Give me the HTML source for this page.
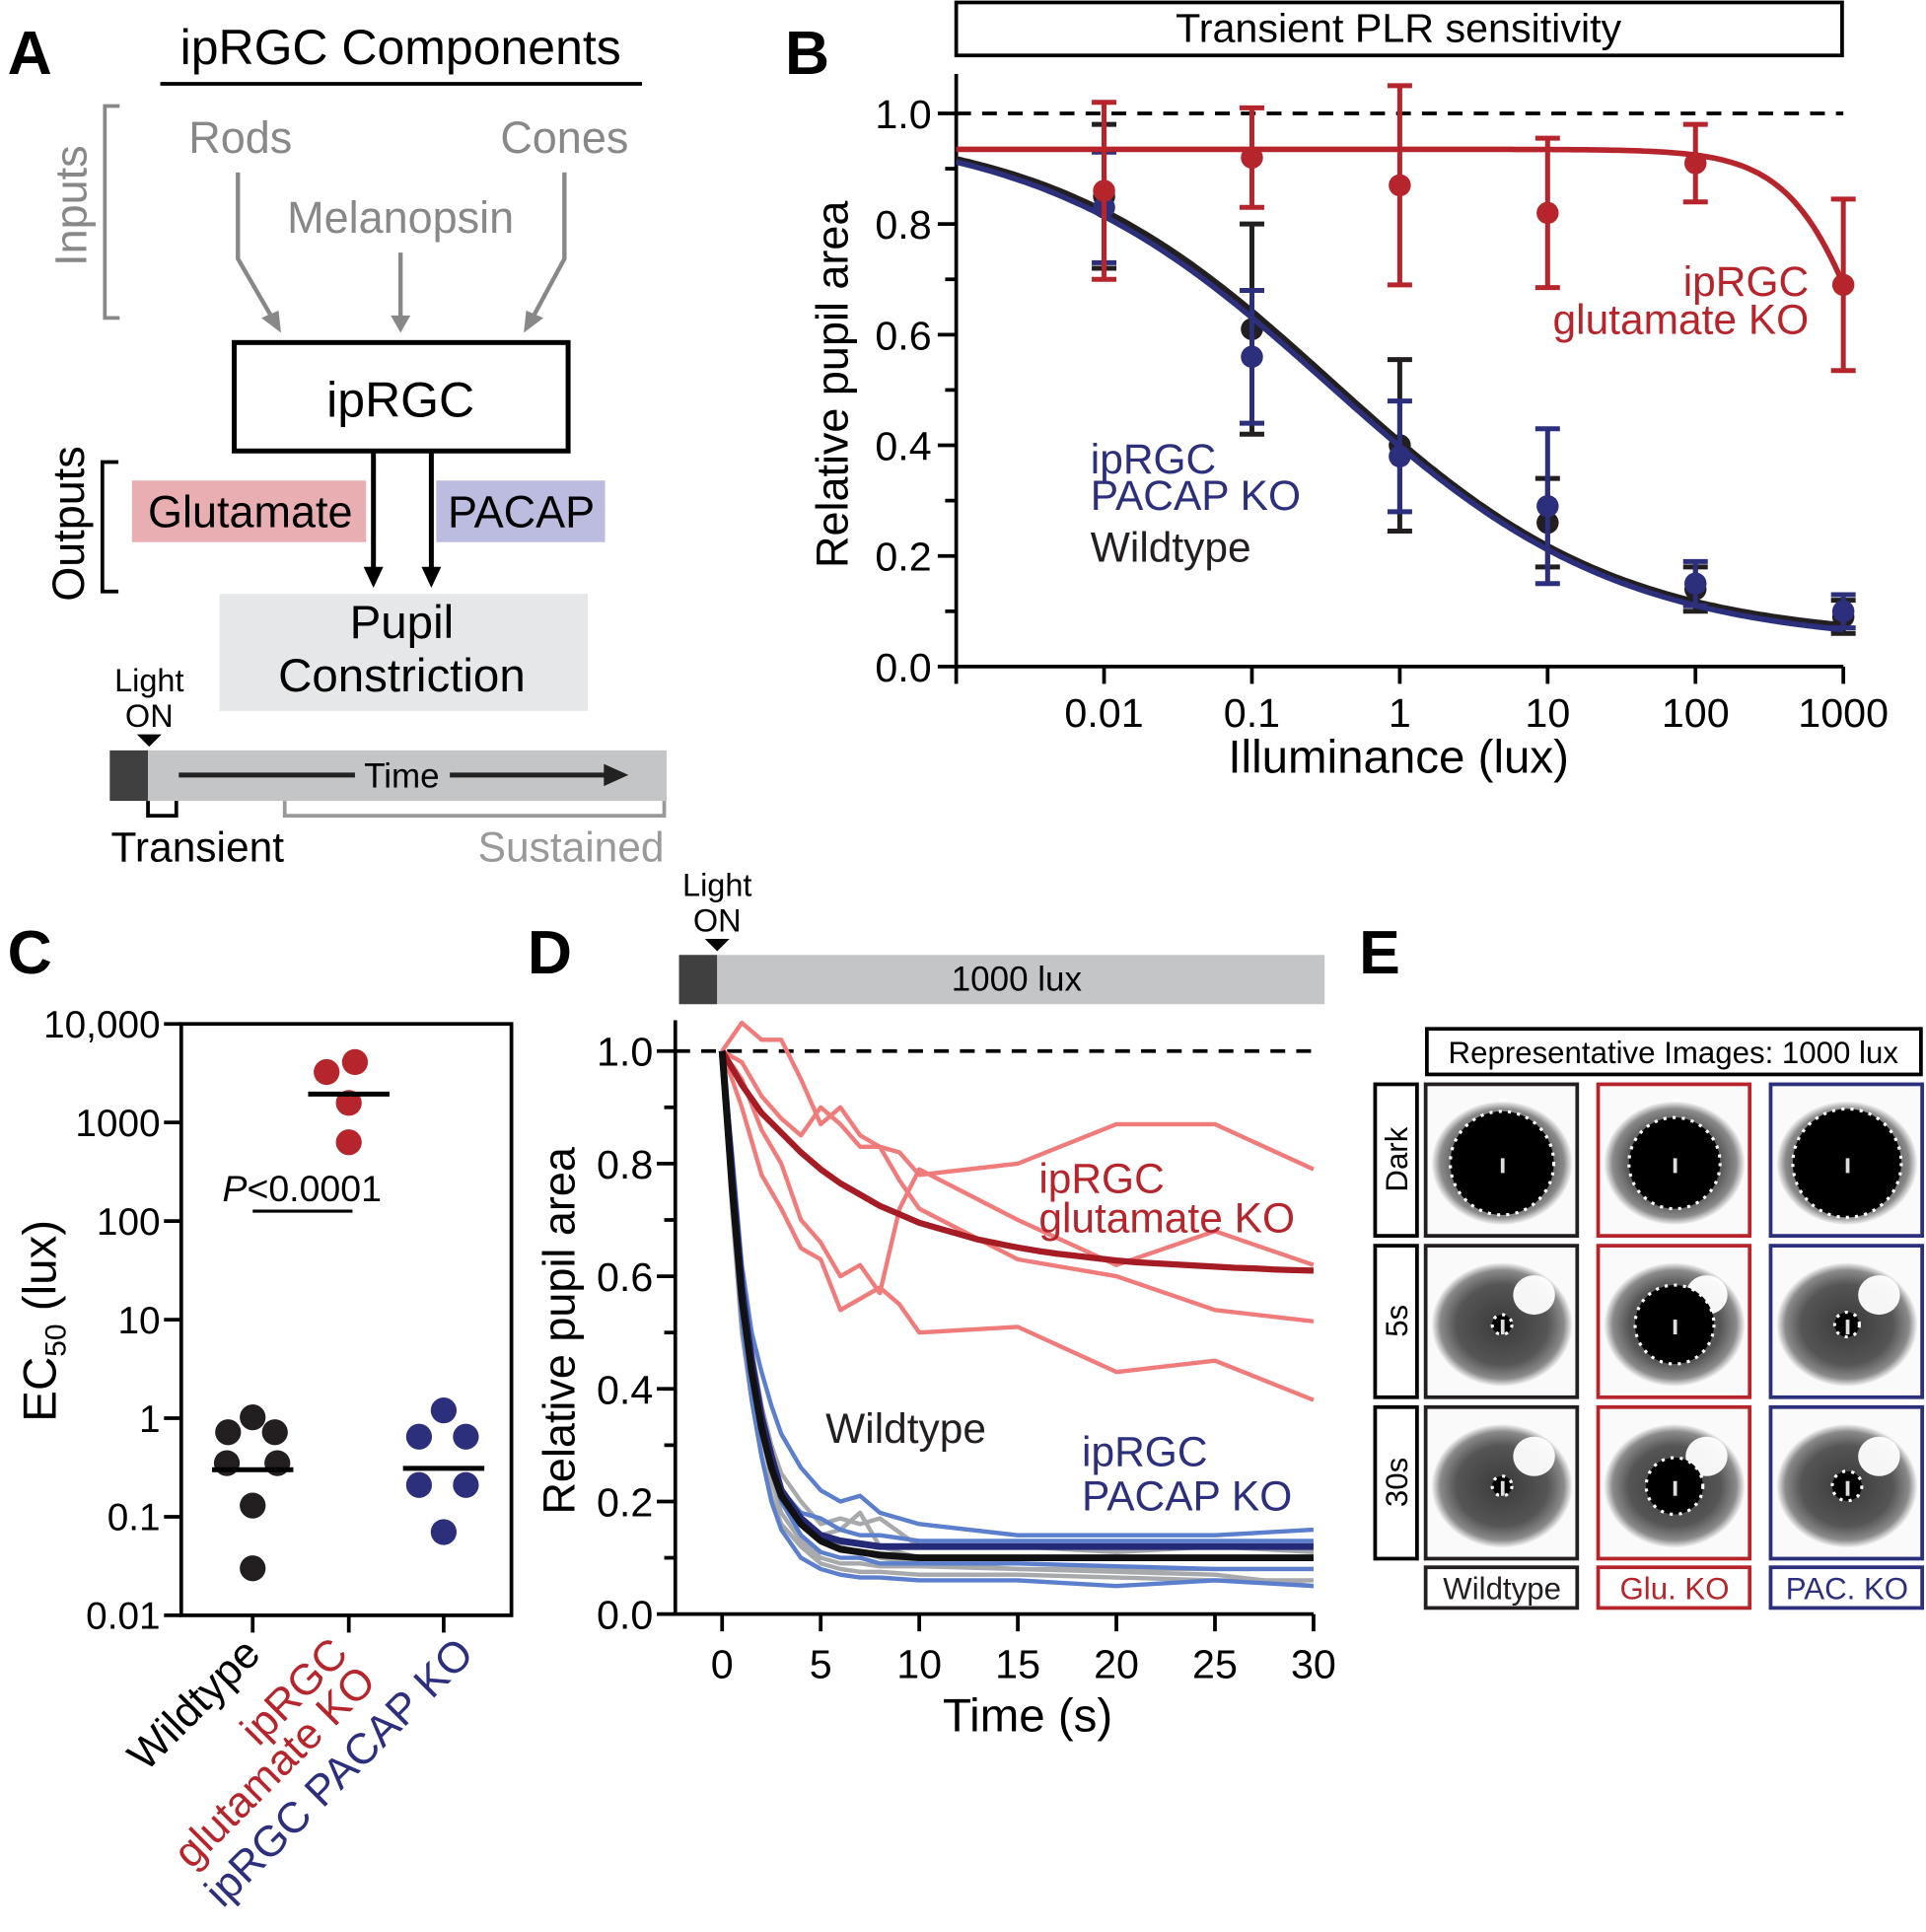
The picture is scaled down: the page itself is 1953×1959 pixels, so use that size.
<!DOCTYPE html>
<html><head><meta charset="utf-8"><style>
html,body{margin:0;padding:0;background:#fff}
svg{display:block;font-family:"Liberation Sans",Arial,sans-serif}
</style></head><body>
<svg id="fig" width="1953" height="1959" viewBox="0 0 1563 1568" xmlns="http://www.w3.org/2000/svg">
<defs>
<radialGradient id="irisG" cx="50%" cy="50%" r="50%"><stop offset="0" stop-color="#3a3a3a"/><stop offset="0.65" stop-color="#555"/><stop offset="0.88" stop-color="#8a8a8a"/><stop offset="1" stop-color="#f4f4f4"/></radialGradient>
</defs>
<!-- Panel A -->
<g>
<text x="6" y="60" font-size="50" font-weight="bold">A</text>
<text x="325" y="52" font-size="40" text-anchor="middle">ipRGC Components</text>
<line x1="130" y1="68" x2="521" y2="68" stroke="#000" stroke-width="3"/>
<path d="M97 86 H85 V258 H97" fill="none" stroke="#888" stroke-width="3"/>
<text transform="translate(70,167) rotate(-90)" font-size="36" fill="#888" text-anchor="middle">Inputs</text>
<text x="195" y="124" font-size="36" fill="#888" text-anchor="middle">Rods</text>
<text x="458" y="124" font-size="36" fill="#888" text-anchor="middle">Cones</text>
<text x="325" y="189" font-size="36" fill="#888" text-anchor="middle">Melanopsin</text>
<g stroke="#888" stroke-width="3.5" fill="none">
<path d="M193 140 V210 L222 260"/><path d="M325 205 V258"/><path d="M458 140 V210 L431 260"/>
</g>
<g fill="#888"><polygon points="228,270 212,258 226,252"/><polygon points="325,270 317,256 333,256"/><polygon points="425,270 427,252 441,258"/></g>
<rect x="190" y="278" width="271" height="88" fill="#fff" stroke="#000" stroke-width="4"/>
<text x="325" y="338" font-size="40" text-anchor="middle">ipRGC</text>
<path d="M96 375 H83 V480 H96" fill="none" stroke="#000" stroke-width="3"/>
<text transform="translate(68,425) rotate(-90)" font-size="36" text-anchor="middle">Outputs</text>
<rect x="107" y="390" width="190" height="50" fill="#e8aeb2"/>
<text x="203" y="428" font-size="36" text-anchor="middle">Glutamate</text>
<rect x="354" y="390" width="137" height="50" fill="#bbbcdf"/>
<text x="423" y="428" font-size="36" text-anchor="middle">PACAP</text>
<g stroke="#000" stroke-width="4"><line x1="303" y1="366" x2="303" y2="462"/><line x1="350" y1="366" x2="350" y2="462"/></g>
<polygon points="303,477 295,460 311,460"/><polygon points="350,477 342,460 358,460"/>
<rect x="178" y="482" width="299" height="95" fill="#e6e7e8"/>
<text x="326" y="518" font-size="38" text-anchor="middle">Pupil</text>
<text x="326" y="561" font-size="38" text-anchor="middle">Constriction</text>
<text x="121" y="561" font-size="26" text-anchor="middle">Light</text>
<text x="121" y="590" font-size="26" text-anchor="middle">ON</text>
<polygon points="111,596 131,596 121,606"/>
<rect x="89" y="609" width="31" height="41" fill="#404041"/>
<rect x="120" y="609" width="421" height="41" fill="#c4c5c7"/>
<line x1="145" y1="629" x2="288" y2="629" stroke="#222" stroke-width="4"/>
<line x1="365" y1="629" x2="495" y2="629" stroke="#222" stroke-width="4"/>
<polygon points="510,629 490,620 490,638" fill="#222"/>
<text x="326" y="639" font-size="28" text-anchor="middle">Time</text>
<path d="M120 650 V662 H143 V650" fill="none" stroke="#000" stroke-width="3"/>
<path d="M231 650 V662 H539 V650" fill="none" stroke="#999" stroke-width="3"/>
<text x="90" y="699" font-size="34">Transient</text>
<text x="539" y="699" font-size="34" fill="#999" text-anchor="end">Sustained</text>
</g>
<!-- Panel B static -->
<g id="pb">
<text x="637" y="60" font-size="50" font-weight="bold">B</text>
<rect x="776" y="2" width="719" height="43" fill="#fff" stroke="#000" stroke-width="3"/>
<text x="1135" y="34" font-size="33" text-anchor="middle">Transient PLR sensitivity</text>
<text transform="translate(688,312) rotate(-90)" font-size="36" text-anchor="middle">Relative pupil area</text>
<text x="1135" y="627" font-size="38" text-anchor="middle">Illuminance (lux)</text>
<text x="1468" y="240" font-size="34" fill="#b5252b" text-anchor="end">ipRGC</text>
<text x="1468" y="271" font-size="34" fill="#b5252b" text-anchor="end">glutamate KO</text>
<text x="885" y="384" font-size="34" fill="#2b2f7c">ipRGC</text>
<text x="885" y="414" font-size="34" fill="#2b2f7c">PACAP KO</text>
<text x="885" y="456" font-size="34" fill="#231f20">Wildtype</text>
</g>
<!-- Panel C static -->
<g id="pc">
<text x="6" y="790" font-size="50" font-weight="bold">C</text>
<rect x="147" y="831" width="268" height="480" fill="none" stroke="#000" stroke-width="3"/>
<text transform="translate(45,1072) rotate(-90)" font-size="38" text-anchor="middle">EC<tspan font-size="24" dy="8">50</tspan><tspan dy="-8"> (lux)</tspan></text>
<text x="245" y="975" font-size="30" text-anchor="middle"><tspan font-style="italic">P</tspan>&lt;0.0001</text>
<line x1="205" y1="983" x2="286" y2="983" stroke="#000" stroke-width="2.5"/>
<text transform="translate(213,1344) rotate(-45)" font-size="35" text-anchor="end">Wildtype</text>
<text transform="translate(284,1344) rotate(-45)" font-size="35" fill="#b5252b" text-anchor="end"><tspan x="0" y="0">ipRGC</tspan><tspan x="0" y="32">glutamate KO</tspan></text>
<text transform="translate(386,1344) rotate(-45)" font-size="35" fill="#2b2f7c" text-anchor="end">ipRGC PACAP KO</text>
</g>
<!-- Panel D static -->
<g id="pd">
<text x="428" y="790" font-size="50" font-weight="bold">D</text>
<text x="582" y="727" font-size="26" text-anchor="middle">Light</text>
<text x="582" y="756" font-size="26" text-anchor="middle">ON</text>
<polygon points="572,762 592,762 582,772"/>
<rect x="551" y="775" width="31" height="40" fill="#404041"/>
<rect x="582" y="775" width="493" height="40" fill="#c4c5c7"/>
<text x="825" y="804" font-size="28" text-anchor="middle">1000 lux</text>
<text transform="translate(466,1080) rotate(-90)" font-size="36" text-anchor="middle">Relative pupil area</text>
<text x="834" y="1405" font-size="38" text-anchor="middle">Time (s)</text>
</g>
<g id="pdlab">
<text x="843" y="968" font-size="34" fill="#b5252b">ipRGC</text>
<text x="843" y="1000" font-size="34" fill="#b5252b">glutamate KO</text>
<text x="670" y="1171" font-size="34" fill="#231f20">Wildtype</text>
<text x="878" y="1190" font-size="34" fill="#2b2f7c">ipRGC</text>
<text x="878" y="1226" font-size="34" fill="#2b2f7c">PACAP KO</text>
</g>
<!-- Panel E -->
<g id="pe">
<text x="1103" y="790" font-size="50" font-weight="bold">E</text>
<rect x="1158" y="835" width="401" height="37" fill="#fff" stroke="#000" stroke-width="3"/>
<text x="1358" y="863" font-size="25" text-anchor="middle">Representative Images: 1000 lux</text>
</g>
<script>
var NS='http://www.w3.org/2000/svg';
var svg=document.getElementById('fig');
function mk(tag,attrs,parent){var e=document.createElementNS(NS,tag);for(var k in attrs)e.setAttribute(k,attrs[k]);(parent||svg).appendChild(e);return e;}
var RED='#b5252b',NAVY='#2b2f7c',BLK='#231f20';

// ===== Panel B data =====
var bLux=[0.01,0.1,1,10,100,1000];
var bXTicks=[0.01,0.1,1,10,100,1000];
var bXTickLabels=['0.01','0.1','1','10','100','1000'];
var bYTicks=[0,0.2,0.4,0.6,0.8,1.0];
var bYTickLabels=['0.0','0.2','0.4','0.6','0.8','1.0'];
var bGluMean=[0.86,0.92,0.87,0.82,0.91,0.69];
var bGluErr=[0.16,0.09,0.18,0.135,0.07,0.155];
var bPacMean=[0.83,0.56,0.38,0.29,0.15,0.10];
var bPacErr=[0.10,0.12,0.10,0.14,0.04,0.03];
var bWtMean=[0.85,0.61,0.40,0.26,0.14,0.09];
var bWtErr=[0.13,0.19,0.155,0.08,0.04,0.03];
var bWtFit=[0.05,0.98,0.35,0.45];   // bottom, top, EC50, hill
var bPacFit=[0.04,0.98,0.33,0.44];
var bGluFit=[0.0,0.935,2000,1.5];

function bx(v){return 776+120*(Math.log10(v)+3);}
function by(v){return 541-449*v;}
var pb=document.getElementById('pb');
var ax=mk('path',{d:'M776 60 V541 H1496',fill:'none',stroke:'#000','stroke-width':3},pb);


for(var i=0;i<=10;i++){var v=i/10;var t=mk('line',{x1:i%2==0?761:767,x2:776,y1:by(v),y2:by(v),stroke:'#000','stroke-width':3},pb);

}
bYTicks.forEach(function(v,i){var t=mk('text',{x:756,y:by(v)+12,'font-size':33,'text-anchor':'end'},pb);t.textContent=bYTickLabels[i];

});
bXTicks.forEach(function(v,i){var t=mk('line',{x1:bx(v),x2:bx(v),y1:541,y2:555,stroke:'#000','stroke-width':3},pb);


var l=mk('text',{x:bx(v),y:590,'font-size':33,'text-anchor':'middle'},pb);l.textContent=bXTickLabels[i];

});
var tk0=mk('line',{x1:776,x2:776,y1:541,y2:555,stroke:'#000','stroke-width':3},pb);


var dl=mk('line',{x1:776,x2:1496,y1:by(1),y2:by(1),stroke:'#000','stroke-width':3,'stroke-dasharray':'12,9'},pb);


function fitPath(p){var d='';for(var k=0;k<=200;k++){var lx=-3+6*k/200;var x=Math.pow(10,lx);var y=p[0]+(p[1]-p[0])/(1+Math.pow(x/p[2],p[3]));d+=(k?'L':'M')+bx(x).toFixed(1)+' '+by(y).toFixed(1);}return d;}
function seriesB(mean,err,fit,color,name){
 var f=mk('path',{d:fitPath(fit),fill:'none',stroke:color,'stroke-width':4.5},pb);
 
 
 bLux.forEach(function(x,i){
  var X=bx(x),y1=by(mean[i]+err[i]),y2=by(mean[i]-err[i]);
  var e=mk('path',{d:'M'+X+' '+y1+'V'+y2+'M'+(X-10)+' '+y1+'H'+(X+10)+'M'+(X-10)+' '+y2+'H'+(X+10),stroke:color,'stroke-width':4,fill:'none'},pb);
  
  
  var c=mk('circle',{cx:X,cy:by(mean[i]),r:9,fill:color},pb);
  
  
 });
}
seriesB(bWtMean,bWtErr,bWtFit,BLK,'b-wildtype');
seriesB(bPacMean,bPacErr,bPacFit,NAVY,'b-pacap-ko');
seriesB(bGluMean,bGluErr,bGluFit,RED,'b-glu-ko');

// ===== Panel C data =====
var cCategories=['Wildtype','ipRGC glutamate KO','ipRGC PACAP KO'];
var cYTicks=[0.01,0.1,1,10,100,1000,10000];
var cYTickLabels=['0.01','0.1','1','10','100','1000','10,000'];
var cWtValues=[1.02,0.72,0.72,0.35,0.35,0.13,0.03];
var cWtJitter=[0,-20,18,-21,20,0,0];
var cGluValues=[3250,4100,1580,630];
var cGluJitter=[-18,5,0,0];
var cPacValues=[1.2,0.65,0.65,0.21,0.21,0.07];
var cPacJitter=[0,-20,18,-20,18,0];
var cMeans=[0.3,1940,0.31];
var pc=document.getElementById('pc');
var cX=[205,283,360];
function cy(v){return 1311-80*(Math.log10(v)+2);}
cYTicks.forEach(function(v,i){var t=mk('line',{x1:133,x2:147,y1:cy(v),y2:cy(v),stroke:'#000','stroke-width':3},pc);


var l=mk('text',{x:130,y:cy(v)+11,'font-size':31,'text-anchor':'end'},pc);l.textContent=cYTickLabels[i];

});
cX.forEach(function(x){var t=mk('line',{x1:x,x2:x,y1:1311,y2:1325,stroke:'#000','stroke-width':3},pc);

});
function dotsC(vals,jit,ci,color,name){vals.forEach(function(v,i){var c=mk('circle',{cx:cX[ci]+jit[i],cy:cy(v),r:10.5,fill:color},pc);

});
var m=mk('line',{x1:cX[ci]-33,x2:cX[ci]+33,y1:cy(cMeans[ci]),y2:cy(cMeans[ci]),stroke:'#000','stroke-width':4},pc);

}
dotsC(cWtValues,cWtJitter,0,BLK,'c-wildtype');
dotsC(cGluValues,cGluJitter,1,RED,'c-glu-ko');
dotsC(cPacValues,cPacJitter,2,NAVY,'c-pacap-ko');

// ===== Panel D data =====
var dTimesRed=[0,1,2,3,4,5,6,7,8,9,10,15,20,25,30];
var dGluTrace1=[1.0,1.05,1.02,1.02,0.95,0.87,0.9,0.85,0.83,0.82,0.78,0.8,0.87,0.87,0.79];
var dGluTrace2=[1.0,0.98,0.92,0.88,0.85,0.9,0.87,0.83,0.83,0.77,0.72,0.63,0.6,0.54,0.52];
var dGluTrace3=[1.0,0.95,0.86,0.8,0.7,0.66,0.6,0.62,0.57,0.72,0.79,0.7,0.62,0.68,0.62];
var dGluTrace4=[1.0,0.9,0.78,0.72,0.65,0.63,0.54,0.56,0.58,0.55,0.5,0.51,0.43,0.45,0.38];
var dTimesMeanRed=[0,1,2,3,4,5,6,7,8,9,10,11,12,13,14,15,16,17,18,19,20,21,22,23,24,25,26,27,28,29,30];
var dGluMean=[1.0,0.94,0.89,0.855,0.82,0.79,0.765,0.745,0.725,0.71,0.695,0.685,0.675,0.665,0.658,0.651,0.645,0.64,0.636,0.632,0.628,0.625,0.623,0.621,0.619,0.617,0.615,0.614,0.612,0.611,0.61];
var dTimes=[0,0.5,1,1.5,2,2.5,3,4,5,6,7,8,10,15,20,25,30];
var dWtTrace1=[1.0,0.75,0.55,0.42,0.33,0.26,0.21,0.16,0.13,0.12,0.11,0.1,0.09,0.08,0.08,0.08,0.08];
var dWtTrace2=[1.0,0.8,0.6,0.47,0.37,0.3,0.25,0.2,0.16,0.17,0.16,0.17,0.12,0.12,0.11,0.12,0.11];
var dWtTrace3=[1.0,0.72,0.5,0.38,0.28,0.21,0.16,0.12,0.09,0.08,0.075,0.075,0.07,0.07,0.065,0.06,0.06];
var dWtTrace4=[1.0,0.78,0.58,0.45,0.35,0.28,0.22,0.17,0.14,0.15,0.18,0.12,0.1,0.1,0.1,0.1,0.1];
var dWtTrace5=[1.0,0.77,0.56,0.43,0.32,0.24,0.18,0.13,0.1,0.09,0.09,0.085,0.085,0.08,0.075,0.07,0.05];
var dWtMean=[1.0,0.76,0.56,0.43,0.33,0.26,0.21,0.16,0.13,0.115,0.11,0.105,0.1,0.1,0.1,0.1,0.1];
var dPacTrace1=[1.0,0.82,0.62,0.5,0.43,0.37,0.32,0.26,0.22,0.2,0.21,0.18,0.16,0.14,0.14,0.14,0.15];
var dPacTrace2=[1.0,0.74,0.52,0.38,0.28,0.2,0.15,0.1,0.08,0.07,0.065,0.065,0.06,0.06,0.05,0.06,0.05];
var dPacTrace3=[1.0,0.8,0.6,0.45,0.35,0.28,0.22,0.18,0.17,0.15,0.14,0.14,0.13,0.13,0.13,0.13,0.13];
var dPacTrace4=[1.0,0.76,0.55,0.42,0.33,0.26,0.2,0.14,0.11,0.1,0.1,0.09,0.09,0.09,0.085,0.08,0.08];
var dPacMean=[1.0,0.78,0.58,0.45,0.35,0.28,0.22,0.17,0.14,0.13,0.125,0.12,0.12,0.12,0.12,0.12,0.12];
var dXTicks=[0,5,10,15,20,25,30];
var dYTicks=[0,0.2,0.4,0.6,0.8,1.0];
var dYTickLabels=['0.0','0.2','0.4','0.6','0.8','1.0'];
var pd=document.getElementById('pd');
function dx(t){return 586+16*t;}
function dy(v){return 1310-457*v;}
var dax=mk('path',{d:'M548 828 V1310 H1066',fill:'none',stroke:'#000','stroke-width':3},pd);


for(var i=0;i<=10;i++){var v=i/10;var t=mk('line',{x1:i%2==0?533:539,x2:548,y1:dy(v),y2:dy(v),stroke:'#000','stroke-width':3},pd);

}
dYTicks.forEach(function(v,i){var l=mk('text',{x:530,y:dy(v)+12,'font-size':33,'text-anchor':'end'},pd);l.textContent=dYTickLabels[i];

});
dXTicks.forEach(function(v){var t=mk('line',{x1:dx(v),x2:dx(v),y1:1310,y2:1324,stroke:'#000','stroke-width':3},pd);


var l=mk('text',{x:dx(v),y:1362,'font-size':33,'text-anchor':'middle'},pd);l.textContent=String(v);

});
var ddl=mk('line',{x1:548,x2:1066,y1:dy(1),y2:dy(1),stroke:'#000','stroke-width':3,'stroke-dasharray':'12,9'},pd);


function lineD(ts,vals,color,w,name){var d='';vals.forEach(function(v,i){d+=(i?'L':'M')+dx(ts[i]).toFixed(1)+' '+dy(v).toFixed(1);});
var p=mk('path',{d:d,fill:'none',stroke:color,'stroke-width':w,'stroke-linejoin':'round'},pd);

}
[dGluTrace1,dGluTrace2,dGluTrace3,dGluTrace4].forEach(function(a){lineD(dTimesRed,a,'#ef7b7b',3.5,'d-glu-ko-trace');});
[dWtTrace1,dWtTrace2,dWtTrace3,dWtTrace4,dWtTrace5].forEach(function(a){lineD(dTimes,a,'#a7a9ac',3.5,'d-wildtype-trace');});
[dPacTrace1,dPacTrace2,dPacTrace3,dPacTrace4].forEach(function(a){lineD(dTimes,a,'#5b7fcc',3.5,'d-pacap-ko-trace');});
lineD(dTimesMeanRed,dGluMean,'#a51c24',5,'d-glu-ko-mean');
lineD(dTimes,dPacMean,'#252a78',5.5,'d-pacap-ko-mean');
lineD(dTimes,dWtMean,'#111',5.5,'d-wildtype-mean');
svg.appendChild(document.getElementById('pdlab'));

// ===== Panel E =====
var pe=document.getElementById('pe');
var eCols=[1157,1297,1437];
var eRows=[880,1011,1142];
var eColColors=[BLK,RED,NAVY];
var eColLabels=['Wildtype','Glu. KO','PAC. KO'];
var eRowLabels=['Dark','5s','30s'];
var ePupilR=[[42,37,44],[8,32,10],[8,23,12]];
eRows.forEach(function(ry,r){
 var b=mk('rect',{x:1116,y:ry,width:34,height:123,fill:'#fff',stroke:'#000','stroke-width':3},pe);
 
 
 var t=mk('text',{transform:'translate(1142,'+(ry+61)+') rotate(-90)','font-size':25,'text-anchor':'middle'},pe);t.textContent=eRowLabels[r];
 
 
 eCols.forEach(function(cx,c){
  var g=mk('g',{},pe);
  
  
  mk('rect',{x:cx,y:ry,width:123,height:123,fill:'#fafafa'},g);
  var ex=cx+62,ey=ry+64;
  mk('ellipse',{cx:ex,cy:ey,rx:57,ry:50,fill:'url(#irisG)'},g);
  if(r>0)mk('ellipse',{cx:ex+26,cy:ey-24,rx:17,ry:16,fill:'#fff',opacity:0.95},g);
  var pr=ePupilR[r][c];
  mk('circle',{cx:ex,cy:ey,r:pr,fill:'#000'},g);
  mk('circle',{cx:ex,cy:ey,r:pr,fill:'none',stroke:'#fff','stroke-width':2.5,'stroke-dasharray':'2.5,5'},g);
  mk('rect',{x:ex-1,y:ey-4,width:3,height:12,fill:'#ddd'},g);
  mk('rect',{x:cx,y:ry,width:123,height:123,fill:'none',stroke:eColColors[c],'stroke-width':3},g);
 });
});
eCols.forEach(function(cx,c){
 var b=mk('rect',{x:cx,y:1272,width:123,height:33,fill:'#fff',stroke:eColColors[c],'stroke-width':3},pe);
 
 
 var t=mk('text',{x:cx+62,y:1298,'font-size':25,'text-anchor':'middle',fill:eColColors[c]},pe);t.textContent=eColLabels[c];
 
 
});
</script>
</svg>
</body></html>
